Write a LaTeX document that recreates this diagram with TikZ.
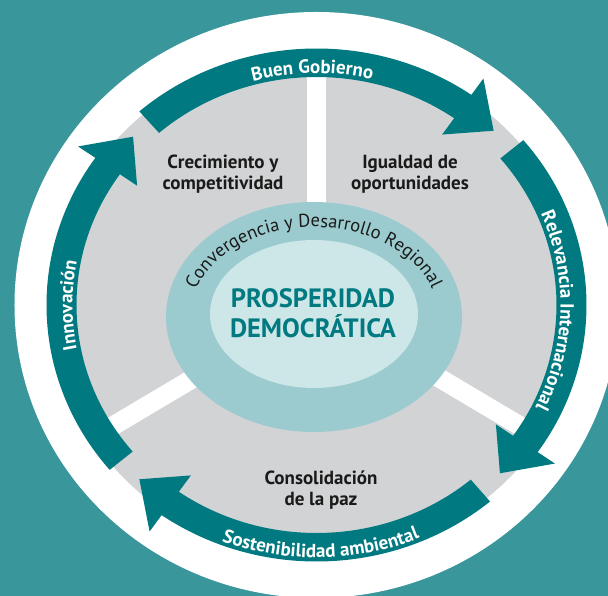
\documentclass[tikz,border=0pt]{standalone}
\usepackage{fontspec}
\setmainfont{PT Sans}
\usetikzlibrary{decorations.text}

\definecolor{bgteal}{RGB}{57,150,155}
\definecolor{arrowteal}{RGB}{0,122,128}
\definecolor{discgrey}{RGB}{210,211,213}
\definecolor{ringteal}{RGB}{155,203,207}
\definecolor{coreteal}{RGB}{205,230,232}
\definecolor{textblack}{RGB}{26,26,26}

\newcommand\ringfont{\bfseries\fontsize{19}{21}\selectfont\color{white}}
\newcommand\bandfont{\fontsize{18.5}{20}\selectfont\color{textblack}}

\tikzset{
	sectortext/.style={align=center, text=textblack, font=\bfseries\fontsize{19}{21}\selectfont},
	coretext/.style={align=center, text=arrowteal, font=\bfseries\fontsize{26.5}{30}\selectfont}
}

\begin{document}
\begin{tikzpicture}[x=1pt, y=1pt]

	% Canvas
	\useasboundingbox (-316.5,-291) rectangle (291.5,305);
	\fill[bgteal] (-316.5,-291) rectangle (291.5,305);

	% Discs
	\fill[white] (0,0) ellipse [x radius=302pt, y radius=293pt];
	\fill[discgrey] (0,0) ellipse [x radius=265pt, y radius=252pt];

	% Spokes
	\foreach \ang in {90,212,328}
		\draw[white, line width=19pt] (0,0) -- (\ang:265 and 252);

	% Centre
	\fill[ringteal] (-2.5,-12) ellipse [x radius=148pt, y radius=115pt];
	\fill[coreteal] (-2.5,-9) ellipse [x radius=104pt, y radius=74pt];

	% Arrows
	\begin{scope}[yscale=0.95]
		\foreach \tail/\tip in {131/46, 40/-44, -50/-134, -140/-224} {
			\pgfmathsetmacro{\back}{\tip+9}
			\fill[arrowteal] (\tail:270) arc [start angle=\tail, end angle=\back, radius=270pt]
				-- (\back:291) -- (\tip:255) -- (\back:219) -- (\back:240)
				arc [start angle=\back, end angle=\tail, radius=240pt] -- cycle;
		}
	\end{scope}

	% Arrow labels
	\path[decorate, decoration={text along path, text align=center, text={|\ringfont|Buen Gobierno}}]
		(131:244 and 231.8) arc [start angle=131, end angle=51, x radius=244pt, y radius=231.8pt];
	\path[decorate, decoration={text along path, text align=center, text={|\ringfont|Relevancia Internacional}}]
		(38:244 and 231.8) arc [start angle=38, end angle=-41, x radius=244pt, y radius=231.8pt];
	\path[decorate, decoration={text along path, text align=center, text={|\ringfont|Sostenibilidad ambiental}}]
		(226:266 and 252.7) arc [start angle=226, end angle=316, x radius=266pt, y radius=252.7pt];
	\path[decorate, decoration={text along path, text align=center, text={|\ringfont|Innovación}}]
		(220:244 and 231.8) arc [start angle=220, end angle=140, x radius=244pt, y radius=231.8pt];

	% Sectors
	\node[sectortext] (growth) at (-93.5,131) {Crecimiento y\\competitividad};
	\node[sectortext] (equality) at (93.5,131) {Igualdad de\\oportunidades};
	\node[sectortext] (peace) at (4.5,-185) {Consolidación\\de la paz};

	% Core
	\begin{scope}[shift={(-2.5,-12)}]
		\path[decorate, decoration={text along path, text align=center, text={|\bandfont|Convergencia y Desarrollo Regional}}]
			(178:124 and 90) arc [start angle=178, end angle=2, x radius=124pt, y radius=90pt];
	\end{scope}
	\node[coretext] (core) at (-3.5,-8) {PROSPERIDAD\\DEMOCRÁTICA};

\end{tikzpicture}
\end{document}
